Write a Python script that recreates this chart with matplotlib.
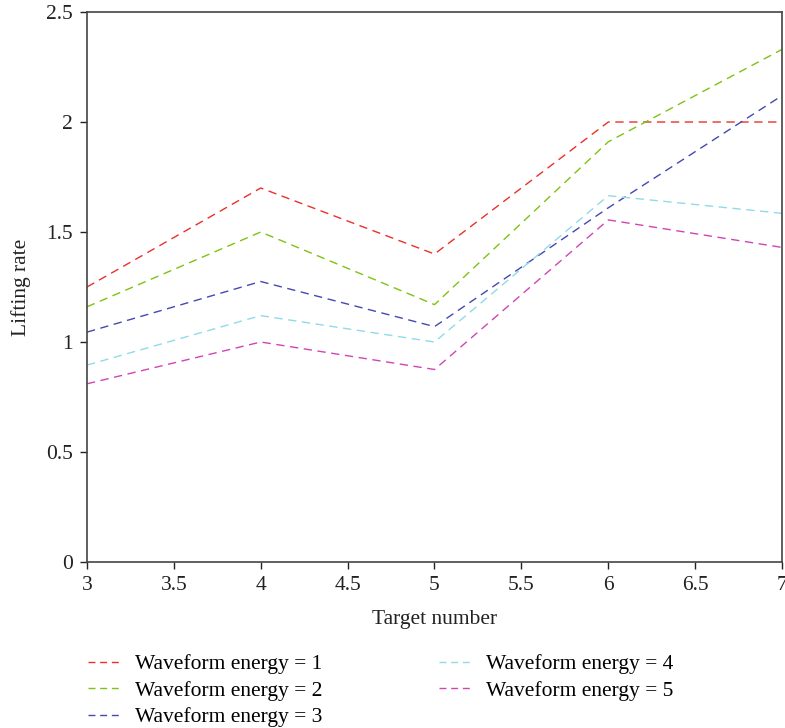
import matplotlib
matplotlib.use('Agg')
import matplotlib.pyplot as plt

targets = [3, 4, 5, 6, 7]
energy_1 = [1.25, 1.70, 1.40, 2.00, 2.00]
energy_2 = [1.16, 1.50, 1.17, 1.91, 2.33]
energy_3 = [1.045, 1.275, 1.07, 1.61, 2.12]
energy_4 = [0.895, 1.12, 1.00, 1.665, 1.585]
energy_5 = [0.81, 1.00, 0.875, 1.555, 1.43]
labels = ['Waveform energy = 1', 'Waveform energy = 2', 'Waveform energy = 3',
          'Waveform energy = 4', 'Waveform energy = 5']
colors = ['#e8312a', '#7cc312', '#4448b0', '#8fdbe8', '#cf45b4']

plt.rcParams['font.family'] = ['Liberation Serif', 'DejaVu Serif']
fs = 15.5

fig = plt.figure(figsize=(7.85, 7.28), dpi=100)
ax = fig.add_axes([0.1108, 0.228, 0.8854, 0.7555])

series = [energy_1, energy_2, energy_3, energy_4, energy_5]
for vals, lab, col in zip(series, labels, colors):
    ax.plot(targets, vals, linestyle=(0, (6, 4)), color=col, linewidth=1.0, label=lab)

ax.set_xlim(3, 7)
ax.set_ylim(0, 2.5)
ax.set_xticks([3, 3.5, 4, 4.5, 5, 5.5, 6, 6.5, 7])
ax.set_xticklabels(['3', '3.5', '4', '4.5', '5', '5.5', '6', '6.5', '7'])
ax.set_yticks([0, 0.5, 1, 1.5, 2, 2.5])
ax.set_yticklabels(['0', '0.5', '1', '1.5', '2', '2.5'])
ax.tick_params(direction='out', length=5, width=1, pad=5, labelsize=fs,
               color='#222222', labelcolor='#222222')
for s in ax.spines.values():
    s.set_color('#444444')
    s.set_linewidth(1.2)
ax.set_xlabel('Target number', fontsize=fs, color='#222222', labelpad=11)
ax.set_ylabel('Lifting rate', fontsize=fs, color='#222222', labelpad=11)

leg = ax.legend(loc='upper left', bbox_to_anchor=(-0.0115, -0.152), ncol=2, frameon=False,
                fontsize=fs, handlelength=1.5, handletextpad=0.7, columnspacing=5.4,
                labelspacing=0.3, borderaxespad=0)
# shorter dashes so the legend keys show three even dashes
for ln in leg.get_lines():
    ln.set_linestyle((0, (5, 3.4)))

fig.savefig('out.png', dpi=100)
